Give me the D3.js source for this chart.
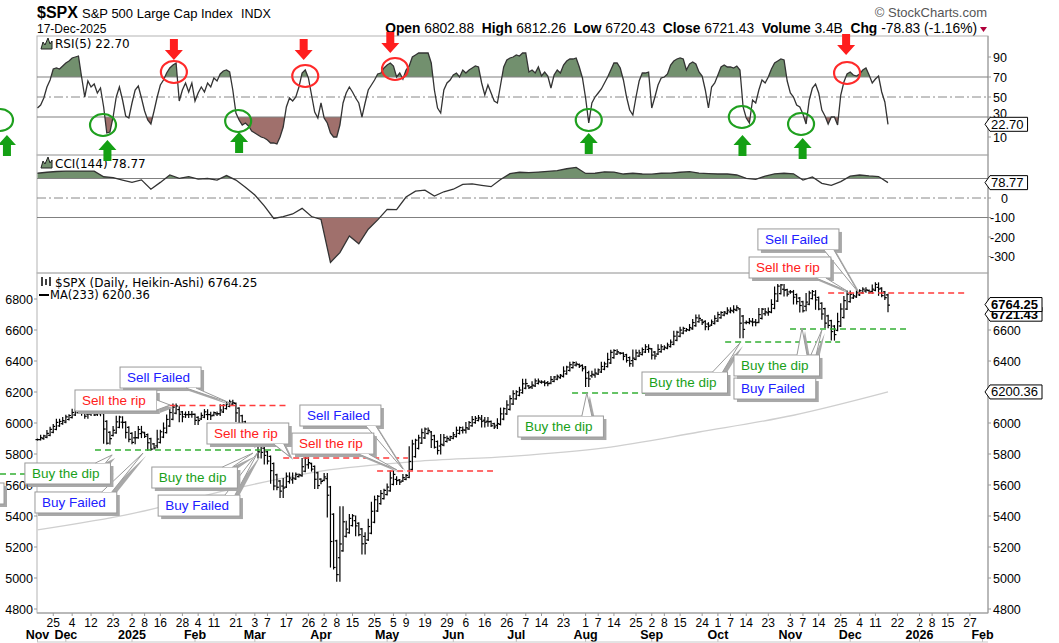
<!DOCTYPE html>
<html>
<head>
<meta charset="utf-8">
<script src="https://cdn.jsdelivr.net/npm/d3@7"></script>
<style>
body { margin: 0; background: #fff; }
svg text { font-family: "Liberation Sans", Arial, sans-serif; }
.lbl { font-family: "DejaVu Sans", Verdana, sans-serif !important; font-size: 12px; }
</style>
</head>
<body>
<div id="chart"></div>
<script>
// daily closes, 18-Nov-2024 .. 17-Dec-2025 (one per trading day)
const closes = [
  5893,5917,5917,5949,5969,5987,6021,5999,6032,
  6047,6050,6086,6075,6090,6053,6034,6084,6051,6051,6074,6050,5872,5867,5931,5975,6040,6037,5971,5907,5882,
  5869,5942,5975,5909,5918,5827,5836,5843,5950,5937,5997,6049,6086,6119,6101,6012,6068,6039,6071,6041,
  5994,6037,6061,6083,6026,6066,6068,6052,6115,6115,6129,6144,6117,6013,5983,5955,5956,5861,5955,
  5850,5778,5843,5739,5770,5615,5572,5599,5522,5639,5675,5615,5675,5663,5668,5768,5777,5712,5693,5581,5612,
  5633,5671,5397,5074,5062,4982,5457,5268,5363,5406,5397,5276,5283,5158,5288,5376,5485,5525,5529,5561,5569,
  5604,5687,5650,5607,5631,5664,5660,5844,5886,5892,5917,5958,5964,5941,5845,5842,5803,5922,5889,5912,5912,
  5936,5970,5971,5939,6000,6006,6039,6022,6045,5977,6033,5983,5981,5968,6025,6093,6092,6141,6173,6205,
  6198,6227,6279,6230,6226,6263,6280,6260,6269,6244,6264,6297,6297,6306,6310,6359,6363,6389,6390,6371,6362,6339,
  6238,6330,6299,6345,6340,6389,6374,6446,6466,6469,6450,6449,6411,6396,6370,6467,6439,6466,6481,6502,6460,
  6416,6448,6502,6482,6495,6512,6532,6588,6584,6615,6606,6600,6632,6664,6693,6657,6638,6605,6644,6661,6688,
  6711,6715,6716,6740,6714,6753,6735,6553,6655,6644,6671,6630,6664,6735,6735,6699,6738,6792,6875,6891,6891,6823,6840,
  6852,6771,6796,6720,6728,6832,6846,6851,6737,6734,6672,6617,6642,6538,6603,6705,6766,6813,6849,
  6812,6829,6850,6857,6870,6846,6840,6887,6901,6827,6817,6800,6721.43
];

const rsi5 = [
  39,42,49,60,67,78,79,78,81,84,86,89,90,91,
  70,50,66,60,63,54,59,40,14,15,30,50,60,47,31,29,
  44,57,61,49,36,27,23,36,50,62,67,74,79,82,84,
  46,57,64,55,64,46,54,60,55,64,60,69,66,73,76,77,75,
  57,34,27,22,24,21,16,14,12,10,9,7,4,4,3,10,20,
  40,49,46,50,60,74,77,69,52,35,29,44,29,24,14,10,10,22,
  44,54,60,55,49,44,30,44,57,62,67,73,74,79,82,84,81,
  70,74,68,77,81,90,92,94,94,94,94,84,57,39,34,
  57,64,67,72,74,70,77,74,77,
  79,81,80,64,52,62,54,46,44,62,80,87,89,90,92,91,94,94,
  75,77,74,80,71,75,71,59,72,77,74,82,86,88,88,89,80,69,
  49,24,44,50,54,58,64,70,77,84,84,79,67,50,37,32,
  50,66,74,74,75,39,50,62,69,70,73,82,86,88,89,88,
  77,83,85,83,75,71,57,39,60,64,72,80,82,80,80,79,81,77,
  40,29,24,47,44,57,67,64,70,78,84,86,88,87,66,54,50,
  42,40,33,23,47,59,63,54,37,31,23,30,30,22,52,65,73,
  75,72,71,73,77,79,72,64,68,71,55,45,22.7
];

// CCI read every 3rd bar
const cciStep = 3;
const cci144 = [
  127,132,136,138,138,138,138,109,105,92,80,93,45,80,118,101,110,97,100,92,
  115,92,55,15,-40,-105,-96,-82,-53,-95,-110,-330,-280,-195,-235,-160,-112,-58,-60,5,
  35,40,10,32,45,70,72,65,58,95,125,132,130,133,137,140,150,157,126,127,
  134,133,123,127,123,122,127,128,132,135,128,125,123,123,118,101,96,112,124,127,
  124,92,108,75,65,84,112,118,113,110,79
];

const maBars = [0, 30, 60, 90, 120, 150, 180, 210, 240, 270];
const ma233 = [5310, 5415, 5565, 5690, 5752, 5785, 5840, 5942, 6050, 6200.36];

const priceTicks = [4800, 5000, 5200, 5400, 5600, 5800, 6000, 6200, 6400, 6600, 6800];
const rsiTicks = [10, 30, 50, 70, 90];
const cciTicks = [100, 0, -100, -200, -300];

const firstDay = "2024-11-18";
const holidays = ["2024-11-28","2024-12-25","2025-01-01","2025-01-09","2025-01-20","2025-02-17",
  "2025-04-18","2025-05-26","2025-06-19","2025-07-04","2025-09-01","2025-11-27","2025-12-25",
  "2026-01-01","2026-01-19"];
const tickDays = ["2024-11-25","2024-12-04","2024-12-12","2024-12-23","2025-01-02","2025-01-08","2025-01-16",
  "2025-01-28","2025-02-04","2025-02-11","2025-02-21","2025-03-03","2025-03-07","2025-03-17","2025-03-26",
  "2025-04-02","2025-04-08","2025-04-15","2025-04-25","2025-05-05","2025-05-09","2025-05-19","2025-05-29",
  "2025-06-06","2025-06-16","2025-06-26","2025-07-07","2025-07-14","2025-07-23","2025-08-01","2025-08-07",
  "2025-08-14","2025-08-25","2025-09-02","2025-09-08","2025-09-15","2025-09-24","2025-10-01","2025-10-07",
  "2025-10-14","2025-10-23","2025-11-03","2025-11-07","2025-11-14","2025-11-25","2025-12-04","2025-12-11",
  "2025-12-22","2026-01-02","2026-01-08","2026-01-15","2026-01-27"];

const quoteNames = ["Open", "High", "Low", "Close", "Volume", "Chg"];
const quoteValues = ["6802.88", "6812.26", "6720.43", "6721.43", "3.4B", "-78.83 (-1.16%)"];

// annotations: at = box top-left [bar, price], to = pointer target [bar, price]
const notes = [
  {text: "Sell Failed", kind: "fail", at: [26.2, 6361], to: [61.1, 6129]},
  {text: "Sell the rip", kind: "sell", at: [11.9, 6213], to: [42.1, 6116]},
  {text: "Buy Failed", kind: "fail", at: [-0.8, 5555], to: [33.5, 5806]},
  {text: "Buy the dip", kind: "buy", at: [-4.0, 5742], to: [23.7, 5794]},
  {text: "", kind: "fail", at: [-37.3, 5613], to: null},
  {text: "Sell the rip", kind: "sell", at: [53.8, 6000], to: [80.2, 5781]},
  {text: "Buy Failed", kind: "fail", at: [38.3, 5535], to: [70, 5813]},
  {text: "Buy the dip", kind: "buy", at: [36.3, 5716], to: [68.4, 5806]},
  {text: "Sell Failed", kind: "fail", at: [83.3, 6116], to: [116, 5703]},
  {text: "Sell the rip", kind: "sell", at: [80.8, 5935], to: [114.1, 5697]},
  {text: "Buy the dip", kind: "buy", at: [152.5, 6045], to: [174.4, 6194]},
  {text: "Buy the dip", kind: "buy", at: [191.9, 6329], to: [223, 6516]},
  {text: "Buy Failed", kind: "fail", at: [221.1, 6290], to: [249, 6600]},
  {text: "Buy the dip", kind: "buy", at: [221.1, 6439], to: [242.7, 6613]},
  {text: "Sell Failed", kind: "fail", at: [228.7, 7252], to: [260.5, 6845]},
  {text: "Sell the rip", kind: "sell", at: [225.9, 7071], to: [257, 6852]}
];

const levels = [
  {kind: "sell", from: 41.9, to: 79.5, price: 6113},
  {kind: "buy", from: 18.25, to: 78, price: 5826},
  {kind: "buy", from: -11.9, to: 24, price: 5671},
  {kind: "sell", from: 78, to: 117.6, price: 5774},
  {kind: "sell", from: 107.8, to: 144.6, price: 5690},
  {kind: "buy", from: 169.7, to: 206.5, price: 6194},
  {kind: "buy", from: 218.3, to: 254.8, price: 6523},
  {kind: "buy", from: 238.9, to: 276, price: 6606},
  {kind: "sell", from: 251, to: 294.5, price: 6839}
];

const rsiCircles = [
  {kind: "buy", bar: -11.9, v: 27}, {kind: "buy", bar: 20.8, v: 22}, {kind: "sell", bar: 43.3, v: 75},
  {kind: "buy", bar: 63.7, v: 26}, {kind: "sell", bar: 85, v: 71}, {kind: "sell", bar: 113.5, v: 78},
  {kind: "buy", bar: 175, v: 27}, {kind: "buy", bar: 223.6, v: 30}, {kind: "buy", bar: 242.4, v: 23},
  {kind: "sell", bar: 257, v: 74}
];
const rsiArrows = [
  {kind: "buy", bar: -9.7, v: 12}, {kind: "buy", bar: 22.2, v: 7}, {kind: "buy", bar: 64, v: 15},
  {kind: "buy", bar: 175, v: 14}, {kind: "buy", bar: 223.8, v: 12}, {kind: "buy", bar: 242.9, v: 9},
  {kind: "sell", bar: 43.3, v: 87}, {kind: "sell", bar: 84.5, v: 87}, {kind: "sell", bar: 112, v: 94},
  {kind: "sell", bar: 256.7, v: 92}
];

const textColor = {sell: "#ff2020", fail: "#2020ff", buy: "#19a019"};
const markColor = {sell: "#ff1e1e", buy: "#14a014"};

const render = () => {
  const width = 1059, height = 643;
  const L = 37, R = 988;
  const svg = d3.select("#chart").append("svg").attr("width", width).attr("height", height);

  // trading-day calendar for the x axis
  const parse = d3.utcParse("%Y-%m-%d"), fmt = d3.utcFormat("%Y-%m-%d");
  const days = [];
  for (let d = parse(firstDay); days.length < 302; d = d3.utcDay.offset(d, 1)) {
    const wd = d.getUTCDay();
    if (wd === 0 || wd === 6 || holidays.includes(fmt(d))) continue;
    days.push(d);
  }
  const dayIdx = new Map(days.map((d, i) => [fmt(d), i]));

  const x = d3.scaleLinear().domain([0, 300]).range([37.5, 982.5]);
  const yRsi = d3.scaleLinear().domain([0, 100]).range([147, 47]);
  const yCci = d3.scaleLinear().domain([-100, 100]).range([217.5, 178.5]);
  const yPx = d3.scaleLinear().domain([4800, 6800]).range([609, 299]);

  const panels = [[36, 155], [155, 273], [273, 613]];

  // header
  svg.append("text").attr("x", 37).attr("y", 18).style("font-size", "16px").style("font-weight", "bold").text("$SPX");
  svg.append("text").attr("x", 82).attr("y", 18).style("font-size", "13px").text("S&P 500 Large Cap Index");
  svg.append("text").attr("x", 241).attr("y", 18).style("font-size", "12.5px").text("INDX");
  svg.append("text").attr("x", 37).attr("y", 33).style("font-size", "12px").text("17-Dec-2025");
  svg.append("text").attr("x", 987).attr("y", 17).attr("text-anchor", "end").attr("fill", "#555")
    .style("font-size", "13px").text("\u00a9 StockCharts.com");
  const q = svg.append("text").attr("x", 977).attr("y", 33).attr("text-anchor", "end")
    .style("font-size", "13.8px").style("white-space", "pre");
  quoteNames.forEach((n, i) => {
    q.append("tspan").style("font-weight", "bold").text(n);
    q.append("tspan").text(" " + quoteValues[i] + (i < quoteNames.length - 1 ? "  " : ""));
  });
  svg.append("path").attr("d", "M980,27 L987,27 L983.5,32 Z").attr("fill", "#b0003a");

  // panel frames
  panels.forEach(([t, b]) => {
    svg.append("rect").attr("x", L).attr("y", t).attr("width", R - L).attr("height", b - t)
      .attr("fill", "none").attr("stroke", "#b4b4b4");
  });
  svg.append("line").attr("x1", R).attr("x2", R).attr("y1", 36).attr("y2", 613).attr("stroke", "#999");

  const clip = (id, y0, y1) => svg.append("clipPath").attr("id", id).append("rect")
    .attr("x", L).attr("y", y0).attr("width", R - L).attr("height", y1 - y0);

  // ---- RSI panel ----
  clip("rsiUp", 36, yRsi(70));
  clip("rsiDn", yRsi(30), 155);
  const rsiPts = rsi5.map((v, i) => [i, v]);
  svg.append("path").datum(rsiPts).attr("clip-path", "url(#rsiUp)").attr("fill", "#72906e")
    .attr("d", d3.area().x(d => x(d[0])).y0(yRsi(70)).y1(d => yRsi(d[1])));
  svg.append("path").datum(rsiPts).attr("clip-path", "url(#rsiDn)").attr("fill", "#a0706c")
    .attr("d", d3.area().x(d => x(d[0])).y0(yRsi(30)).y1(d => yRsi(d[1])));
  [70, 30].forEach(v => svg.append("line").attr("x1", L).attr("x2", R).attr("y1", yRsi(v)).attr("y2", yRsi(v))
    .attr("stroke", "#808080").attr("stroke-width", 1.2));
  svg.append("line").attr("x1", L).attr("x2", R).attr("y1", yRsi(50)).attr("y2", yRsi(50))
    .attr("stroke", "#888").attr("stroke-dasharray", "9,3,2,3");
  svg.append("path").datum(rsiPts).attr("fill", "none").attr("stroke", "#333").attr("stroke-width", 1.3)
    .attr("d", d3.line().x(d => x(d[0])).y(d => yRsi(d[1])));
  rsiTicks.forEach(v => {
    svg.append("line").attr("x1", R).attr("x2", R + 3).attr("y1", yRsi(v)).attr("y2", yRsi(v)).attr("stroke", "#999");
    // 30 is half hidden by the value tag, nudge it up a little
    svg.append("text").attr("x", 993).attr("y", yRsi(v) + (v === 30 ? 1 : 4.5)).style("font-size", "12.5px").text(v);
  });

  // ---- CCI panel ----
  clip("cciUp", 155, yCci(100));
  clip("cciDn", yCci(-100), 273);
  const cciPts = cci144.map((v, i) => [i * cciStep, v]);
  svg.append("path").datum(cciPts).attr("clip-path", "url(#cciUp)").attr("fill", "#72906e")
    .attr("d", d3.area().x(d => x(d[0])).y0(yCci(100)).y1(d => yCci(d[1])));
  svg.append("path").datum(cciPts).attr("clip-path", "url(#cciDn)").attr("fill", "#a0706c")
    .attr("d", d3.area().x(d => x(d[0])).y0(yCci(-100)).y1(d => yCci(d[1])));
  [100, -100].forEach(v => svg.append("line").attr("x1", L).attr("x2", R).attr("y1", yCci(v)).attr("y2", yCci(v))
    .attr("stroke", "#808080").attr("stroke-width", 1.2));
  svg.append("line").attr("x1", L).attr("x2", R).attr("y1", yCci(0)).attr("y2", yCci(0))
    .attr("stroke", "#888").attr("stroke-dasharray", "9,3,2,3");
  svg.append("path").datum(cciPts).attr("fill", "none").attr("stroke", "#333").attr("stroke-width", 1.3)
    .attr("d", d3.line().x(d => x(d[0])).y(d => yCci(d[1])));
  cciTicks.forEach(v => {
    svg.append("line").attr("x1", R).attr("x2", R + 3).attr("y1", yCci(v)).attr("y2", yCci(v)).attr("stroke", "#999");
    // the 100 label sits under the value tag
    if (v === 100) return;
    svg.append("text").attr("x", v < 0 ? 990 : 1001).attr("y", yCci(v) + 4.5).style("font-size", "12.5px").text(v);
  });

  // ---- price panel ----
  priceTicks.forEach(v => {
    svg.append("line").attr("x1", L - 3).attr("x2", L).attr("y1", yPx(v)).attr("y2", yPx(v)).attr("stroke", "#999");
    svg.append("text").attr("x", 33).attr("y", yPx(v) + 4.5).attr("text-anchor", "end").style("font-size", "12.5px").text(v);
    svg.append("line").attr("x1", R).attr("x2", R + 3).attr("y1", yPx(v)).attr("y2", yPx(v)).attr("stroke", "#999");
    // right side 6800 / 6200 are covered by the value tags
    if (v === 6800 || v === 6200) return;
    svg.append("text").attr("x", 993).attr("y", yPx(v) + 4.5).style("font-size", "12.5px").text(v);
  });

  // moving average
  svg.append("path").datum(maBars.map((b, i) => [b, ma233[i]])).attr("fill", "none")
    .attr("stroke", "#cfcfcf").attr("stroke-width", 1.3)
    .attr("d", d3.line().curve(d3.curveMonotoneX).x(d => x(d[0])).y(d => yPx(d[1])));

  // Heikin-Ashi bars built from the closes (open taken as prior close)
  let haO = closes[0], haC = closes[0];
  const bars = closes.map((c, i) => {
    const o = i ? closes[i - 1] : c;
    const nO = i ? (haO + haC) / 2 : (o + c) / 2;
    const nC = (o + c) / 2;
    haO = nO; haC = nC;
    return {i, o: nO, c: nC, hi: Math.max(o, c, nO), lo: Math.min(o, c, nO)};
  });
  const bg = svg.append("g").attr("stroke", "#000").attr("stroke-width", 1.2);
  bars.forEach(b => {
    const bx = x(b.i);
    bg.append("line").attr("x1", bx).attr("x2", bx).attr("y1", yPx(b.hi) - 1).attr("y2", yPx(b.lo) + 1);
    bg.append("line").attr("x1", bx - 2).attr("x2", bx).attr("y1", yPx(b.o)).attr("y2", yPx(b.o));
    bg.append("line").attr("x1", bx).attr("x2", bx + 2).attr("y1", yPx(b.c)).attr("y2", yPx(b.c));
  });

  // dashed support / resistance
  levels.forEach(l => {
    svg.append("line").attr("x1", x(l.from)).attr("x2", x(l.to)).attr("y1", yPx(l.price)).attr("y2", yPx(l.price))
      .attr("stroke", l.kind === "sell" ? "#ff3b3b" : "#33b033").attr("stroke-width", 1.5)
      .attr("stroke-dasharray", "6,4");
  });

  // callouts
  const clamp = (v, a, b) => Math.max(a, Math.min(b, v));
  notes.forEach(n => {
    const bx = x(n.at[0]), by = yPx(n.at[1]), h = 21;
    const g = svg.append("g");
    const t = g.append("text").attr("x", bx + 7).attr("y", by + 15).attr("fill", textColor[n.kind])
      .style("font-size", "13.5px").text(n.text);
    const w = n.text ? t.node().getComputedTextLength() + 18 : 84;
    let wedge = null;
    if (n.to) {
      const tx = x(n.to[0]), ty = yPx(n.to[1]);
      let b1, b2;
      if (ty < by || ty > by + h) {
        const cx = clamp(tx, bx + 10, bx + w - 10), ey = ty < by ? by : by + h;
        b1 = [cx - 5, ey]; b2 = [cx + 5, ey];
      } else {
        const ex = tx > bx + w ? bx + w : bx, cy = clamp(ty, by + 6, by + h - 6);
        b1 = [ex, cy - 5]; b2 = [ex, cy + 5];
      }
      wedge = [b1, [tx, ty], b2];
    }
    const shadow = g.insert("g", "text").attr("transform", "translate(3,3)").attr("fill", "#a8a8a8");
    shadow.append("rect").attr("x", bx).attr("y", by).attr("width", w).attr("height", h);
    if (wedge) shadow.append("path").attr("d", d3.line()(wedge) + "Z");
    g.insert("rect", "text").attr("x", bx).attr("y", by).attr("width", w).attr("height", h)
      .attr("fill", "#fff").attr("stroke", "#9a9a9a");
    if (wedge) {
      g.insert("path", "text").attr("d", d3.line()(wedge) + "Z").attr("fill", "#fff");
      g.insert("path", "text").attr("d", d3.line()(wedge)).attr("fill", "none").attr("stroke", "#9a9a9a");
    }
  });

  // ---- value tags on the right ----
  const tag = (yc, label, bold) => {
    const g = svg.append("g");
    const t = g.append("text").attr("x", 991).attr("y", yc + 4.5).style("font-size", "13px")
      .style("font-weight", bold ? "bold" : null).text(label);
    const w = t.node().getComputedTextLength() + 4;
    g.insert("path", "text")
      .attr("d", `M985,${yc} L990,${yc - 7} L${991 + w},${yc - 7} L${991 + w},${yc + 7} L990,${yc + 7} Z`)
      .attr("fill", "#fff").attr("stroke", "#000");
  };
  tag(yRsi(22.7), "22.70");
  tag(yCci(78.77), "78.77");
  tag(yPx(6721.43) + 3, "6721.43", true);
  tag(yPx(6764.25), "6764.25", true);
  tag(yPx(6200.36), "6200.36");

  // panel legends
  const icon = (x0, y0) => svg.append("path")
    .attr("d", `M${x0},${y0 + 11} L${x0 + 2},${y0 + 4} L${x0 + 4},${y0 + 7} L${x0 + 7},${y0} L${x0 + 9},${y0 + 6} L${x0 + 11},${y0 + 3} L${x0 + 11},${y0 + 11} Z`)
    .attr("fill", "#72906e").attr("stroke", "#222").attr("stroke-width", 1);
  icon(41, 38);
  svg.append("text").attr("class", "lbl").attr("x", 55).attr("y", 48).text("RSI(5) 22.70");
  icon(41, 157);
  svg.append("text").attr("class", "lbl").attr("x", 55).attr("y", 168).text("CCI(144) 78.77");
  const pi = svg.append("g").attr("stroke", "#000").attr("stroke-width", 1.5);
  [42, 46, 50].forEach((px, k) => pi.append("line").attr("x1", px).attr("x2", px)
    .attr("y1", 277 + (k % 2) * 2).attr("y2", 286 - (k % 2)));
  svg.append("text").attr("class", "lbl").attr("x", 55).attr("y", 287).text("$SPX (Daily, Heikin-Ashi) 6764.25");
  svg.append("line").attr("x1", 39).attr("x2", 49).attr("y1", 295).attr("y2", 295).attr("stroke", "#000").attr("stroke-width", 2);
  svg.append("text").attr("class", "lbl").attr("x", 50).attr("y", 299).style("font-size", "11.5px").text("MA(233) 6200.36");

  // ---- RSI signals ----
  rsiCircles.forEach(c => {
    svg.append("ellipse").attr("cx", x(c.bar)).attr("cy", yRsi(c.v)).attr("rx", 13).attr("ry", 11)
      .attr("fill", "none").attr("stroke", c.kind === "sell" ? "#ff2a2a" : "#1fa01f").attr("stroke-width", 2.2);
  });
  rsiArrows.forEach(a => {
    const ax = x(a.bar), ty = yRsi(a.v), s = a.kind === "sell" ? -1 : 1;
    const pts = [[ax, ty], [ax + 9, ty + 10 * s], [ax + 4, ty + 10 * s], [ax + 4, ty + 21 * s],
      [ax - 4, ty + 21 * s], [ax - 4, ty + 10 * s], [ax - 9, ty + 10 * s]];
    svg.append("path").attr("d", d3.line()(pts) + "Z").attr("fill", markColor[a.kind]);
  });

  // ---- x axis ----
  svg.append("line").attr("x1", L).attr("x2", R).attr("y1", 613).attr("y2", 613).attr("stroke", "#999");
  tickDays.forEach(s => {
    const i = dayIdx.get(s);
    svg.append("line").attr("x1", x(i)).attr("x2", x(i)).attr("y1", 613).attr("y2", 616).attr("stroke", "#999");
    svg.append("text").attr("x", x(i)).attr("y", 627).attr("text-anchor", "middle").style("font-size", "12px")
      .text(+s.slice(8));
  });
  const monthFmt = d3.utcFormat("%b");
  days.forEach((d, i) => {
    if (i > 0 && d.getUTCMonth() === days[i - 1].getUTCMonth()) return;
    const lab = d.getUTCMonth() === 0 ? d.getUTCFullYear() : monthFmt(d);
    svg.append("text").attr("x", x(i)).attr("y", 639).attr("text-anchor", "middle")
      .style("font-size", "12.5px").style("font-weight", "bold").text(lab);
    svg.append("line").attr("x1", x(i)).attr("x2", x(i)).attr("y1", 639).attr("y2", 642).attr("stroke", "#bbb");
  });
  svg.append("line").attr("x1", L).attr("x2", R).attr("y1", 642).attr("y2", 642).attr("stroke", "#c8c8c8");
};

render();
</script>
</body>
</html>
